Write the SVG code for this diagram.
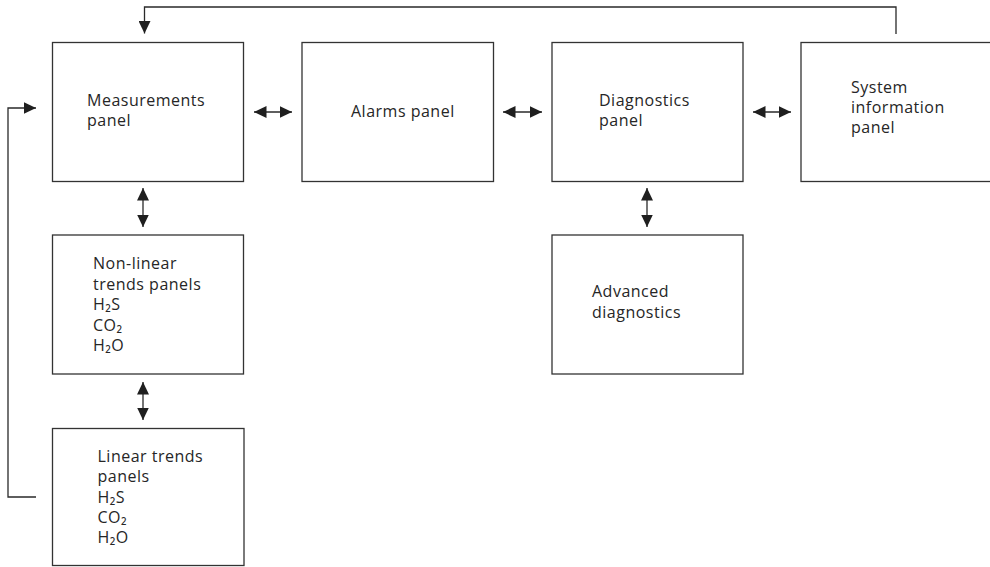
<svg xmlns="http://www.w3.org/2000/svg" width="990" height="567" viewBox="0 0 990 567">
  <defs>
    <style>
      .box { fill: #ffffff; stroke: #333333; stroke-width: 1.3; }
      .lbl { font-family: "Open Sans", "Noto Sans", "DejaVu Sans", sans-serif; font-size: 16px; letter-spacing: 0.5px; fill: #262626; }
      .con { fill: none; stroke: #2a2a2a; stroke-width: 1.3; }
      .dbl { marker-start: url(#ah); marker-end: url(#ah); }
      .sgl { marker-end: url(#ah); }
    </style>
    <marker id="ah" markerUnits="userSpaceOnUse" markerWidth="13" markerHeight="12" refX="12.5" refY="6" orient="auto-start-reverse" viewBox="0 0 13 12">
      <path d="M0,0 L12.5,6 L0,12 Z" fill="#1f1f1f"/>
    </marker>
  </defs>
  <rect width="990" height="567" fill="#ffffff"/>

  <g id="connectors">
    <path class="con sgl" d="M896,34 V7 H144.5 V33.5"/>
    <path class="con sgl" d="M36,497 H8 V108 H36"/>
    <line class="con dbl" x1="254" y1="112" x2="292" y2="112"/>
    <line class="con dbl" x1="503" y1="112" x2="542" y2="112"/>
    <line class="con dbl" x1="753" y1="112" x2="791" y2="112"/>
    <line class="con dbl" x1="143" y1="188" x2="143" y2="227"/>
    <line class="con dbl" x1="143" y1="382" x2="143" y2="420"/>
    <line class="con dbl" x1="647" y1="188" x2="647" y2="227"/>
  </g>

  <g id="measurements">
    <rect class="box" x="52.5" y="42.5" width="191" height="139"/>
    <text class="lbl" x="87" y="106">Measurements</text>
    <text class="lbl" x="87" y="126">panel</text>
  </g>

  <g id="alarms">
    <rect class="box" x="302" y="42.5" width="191.5" height="139"/>
    <text class="lbl" x="351" y="117">Alarms panel</text>
  </g>

  <g id="diagnostics">
    <rect class="box" x="552" y="42.5" width="191" height="139"/>
    <text class="lbl" x="599" y="106">Diagnostics</text>
    <text class="lbl" x="599" y="126">panel</text>
  </g>

  <g id="system-information">
    <rect class="box" x="801" y="42.5" width="200" height="139"/>
    <text class="lbl" x="851" y="93">System</text>
    <text class="lbl" x="851" y="113">information</text>
    <text class="lbl" x="851" y="133">panel</text>
  </g>

  <g id="non-linear-trends">
    <rect class="box" x="52.5" y="235" width="191" height="139"/>
    <text class="lbl" x="93" y="269">Non-linear</text>
    <text class="lbl" x="93" y="289.5">trends panels</text>
    <text class="lbl" x="93" y="310">H₂S</text>
    <text class="lbl" x="93" y="330.5">CO₂</text>
    <text class="lbl" x="93" y="351">H₂O</text>
  </g>

  <g id="linear-trends">
    <rect class="box" x="52.5" y="428.5" width="191.5" height="137"/>
    <text class="lbl" x="97.5" y="462">Linear trends</text>
    <text class="lbl" x="97.5" y="482">panels</text>
    <text class="lbl" x="97.5" y="502.5">H₂S</text>
    <text class="lbl" x="97.5" y="523">CO₂</text>
    <text class="lbl" x="97.5" y="543">H₂O</text>
  </g>

  <g id="advanced-diagnostics">
    <rect class="box" x="552" y="235" width="191" height="139"/>
    <text class="lbl" x="592" y="297">Advanced</text>
    <text class="lbl" x="592" y="318">diagnostics</text>
  </g>
</svg>
